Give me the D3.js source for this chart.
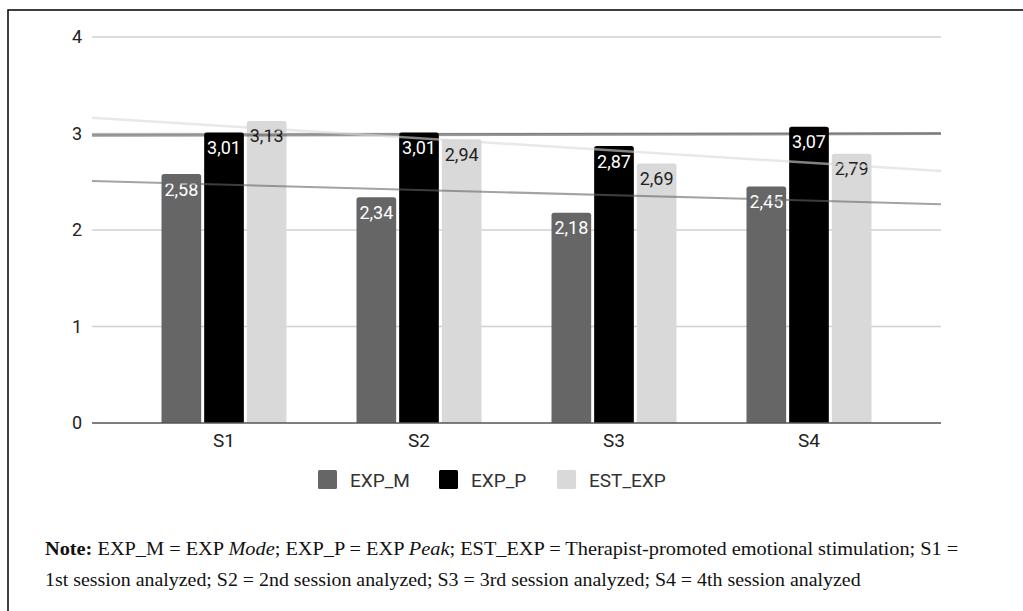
<!DOCTYPE html>
<html><head><meta charset="utf-8">
<script src="https://cdn.jsdelivr.net/npm/d3@7"></script>
<style>html,body{margin:0;padding:0;background:#fff;}svg{display:block;}</style>
</head><body>
<svg id="chart" width="1023" height="611"></svg>
<script>
const categories = ["S1", "S2", "S3", "S4"];
const seriesNames = ["EXP_M", "EXP_P", "EST_EXP"];
const expM = [2.58, 2.34, 2.18, 2.45];
const expP = [3.01, 3.01, 2.87, 3.07];
const estExp = [3.13, 2.94, 2.69, 2.79];
const yTicks = [0, 1, 2, 3, 4];
const noteLine1 = [["Note:", "bold"], [" EXP_M = EXP ", "normal"], ["Mode", "italic"], ["; EXP_P = EXP ", "normal"], ["Peak", "italic"], ["; EST_EXP = Therapist-promoted emotional stimulation; S1 =", "normal"]];
const noteLine2 = [["1st session analyzed; S2 = 2nd session analyzed; S3 = 3rd session analyzed; S4 = 4th session analyzed", "normal"]];

const series = [
  {name: seriesNames[0], values: expM, color: "#666666", label: "#ffffff", trend: "#666666", trendOp: 0.6, trendW: 2},
  {name: seriesNames[1], values: expP, color: "#000000", label: "#ffffff", trend: "#000000", trendOp: 0.4, trendW: 3},
  {name: seriesNames[2], values: estExp, color: "#d9d9d9", label: "#222222", trend: "#d9d9d9", trendOp: 0.6, trendW: 2.5}
];

const svg = d3.select("#chart");
const pLeft = 92, pRight = 941, pTop = 37, pBottom = 423;
const pad = 0.677;
const x = d3.scaleLinear().domain([1 - pad, categories.length + pad]).range([pLeft, pRight]);
const y = d3.scaleLinear().domain([0, 4]).range([pBottom, pTop]);
const groupW = 125;
const sub = d3.scaleBand().domain(seriesNames).range([-groupW / 2, groupW / 2]).paddingInner(0.07);

// frame
svg.append("rect").attr("x", 8).attr("y", 10).attr("width", 1040).attr("height", 640)
  .attr("fill", "none").attr("stroke", "#000").attr("stroke-width", 1.5);

// gridlines
svg.append("g").selectAll("line").data(yTicks.filter(d => d !== 0)).join("line")
  .attr("x1", pLeft).attr("x2", pRight).attr("y1", d => y(d)).attr("y2", d => y(d))
  .attr("stroke", "#d0d0d0").attr("stroke-width", 1.3);

// y labels
svg.append("g").selectAll("text").data(yTicks).join("text")
  .attr("x", 82).attr("y", d => y(d)).attr("dy", "0.36em").attr("text-anchor", "end")
  .attr("font-family", "Roboto").attr("font-size", 18).attr("fill", "#222")
  .text(d => d);

// bars
function barPath(x0, y0, w, h, r) {
  r = Math.min(r, h);
  return `M${x0},${y0 + h}V${y0 + r}Q${x0},${y0} ${x0 + r},${y0}H${x0 + w - r}Q${x0 + w},${y0} ${x0 + w},${y0 + r}V${y0 + h}Z`;
}
const barG = svg.append("g");
series.forEach(s => {
  barG.append("g").selectAll("path").data(s.values).join("path")
    .attr("d", (v, i) => {
      const bx = x(i + 1) + sub(s.name);
      return barPath(bx, y(v), sub.bandwidth(), y(0) - y(v), 2.5);
    })
    .attr("fill", s.color);
});

// zero axis line
svg.append("line").attr("x1", pLeft).attr("x2", pRight).attr("y1", y(0)).attr("y2", y(0))
  .attr("stroke", "#555").attr("stroke-width", 1.5);

// bar labels
series.forEach(s => {
  svg.append("g").selectAll("text").data(s.values).join("text")
    .attr("x", (v, i) => x(i + 1) + sub(s.name) + sub.bandwidth() / 2)
    .attr("y", v => y(v) + 21.5)
    .attr("text-anchor", "middle")
    .attr("font-family", "Roboto").attr("font-size", 18).attr("fill", s.label)
    .text(v => v.toFixed(2).replace(".", ","));
});

// trend lines (linear regression over category index)
series.forEach(s => {
  const xs = s.values.map((v, i) => i + 1);
  const mx = d3.mean(xs), my = d3.mean(s.values);
  const slope = d3.sum(xs, (xi, i) => (xi - mx) * (s.values[i] - my)) / d3.sum(xs, xi => (xi - mx) ** 2);
  const f = t => my + slope * (t - mx);
  const [d0, d1] = x.domain();
  svg.append("line")
    .attr("x1", x(d0)).attr("y1", y(f(d0))).attr("x2", x(d1)).attr("y2", y(f(d1)))
    .attr("stroke", s.trend).attr("stroke-opacity", s.trendOp).attr("stroke-width", s.trendW);
});

// category labels
svg.append("g").selectAll("text").data(categories).join("text")
  .attr("x", (d, i) => x(i + 1)).attr("y", 447).attr("text-anchor", "middle")
  .attr("font-family", "Roboto").attr("font-size", 19).attr("fill", "#222")
  .text(d => d);

// legend
const legendX = [318, 439, 557];
const lg = svg.append("g");
series.forEach((s, i) => {
  lg.append("rect").attr("x", legendX[i]).attr("y", 470).attr("width", 19).attr("height", 19)
    .attr("rx", 1.5).attr("fill", s.color);
  lg.append("text").attr("x", legendX[i] + 32).attr("y", 486.5)
    .attr("font-family", "Roboto").attr("font-size", 19).attr("fill", "#333")
    .text(s.name);
});

// note
function noteLine(parts, x0, yb, targetW) {
  const t = svg.append("text").attr("font-family", "Liberation Serif, Times New Roman, serif")
    .attr("font-size", 18).attr("fill", "#111");
  parts.forEach(([txt, st]) => {
    const sp = t.append("tspan").text(txt);
    if (st === "bold") sp.attr("font-weight", "bold");
    if (st === "italic") sp.attr("font-style", "italic");
  });
  t.style("white-space", "pre");
  const w = t.node().getComputedTextLength();
  t.attr("transform", `translate(${x0},${yb}) scale(${targetW / w},1)`);
}
noteLine(noteLine1, 45, 555, 914);
noteLine(noteLine2, 45, 586, 816);
</script>
</body></html>
